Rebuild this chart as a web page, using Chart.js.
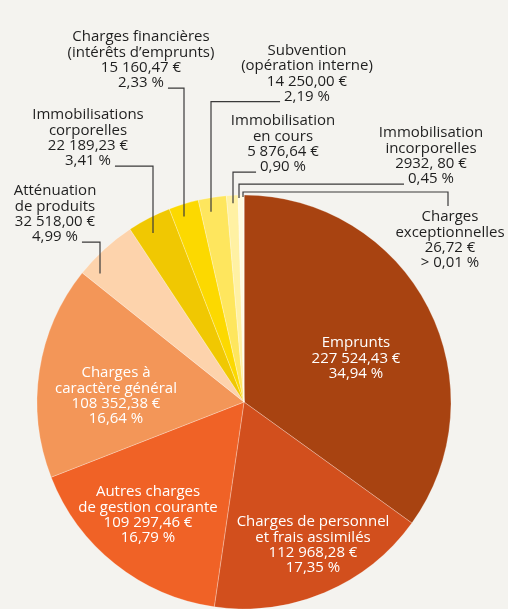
<!DOCTYPE html>
<html>
<head>
<meta charset="utf-8">
<script src="https://cdn.jsdelivr.net/npm/chart.js@4.4.0/dist/chart.umd.min.js"></script>
<style>
    html, body { margin: 0; padding: 0; background: #f4f3ef; }
    canvas { display: block; }
</style>
</head>
<body>
<canvas id="myChart" width="508" height="609"></canvas>
<script>
'use strict'
// budget lines, clockwise from 12 o'clock
const categories = [
    ['Emprunts'],
    ['Charges de personnel', 'et frais assimilés'],
    ['Autres charges', 'de gestion courante'],
    ['Charges à', 'caractère général'],
    ['Atténuation', 'de produits'],
    ['Immobilisations', 'corporelles'],
    ['Charges financières', '(intérêts d’emprunts)'],
    ['Subvention', '(opération interne)'],
    ['Immobilisation', 'en cours'],
    ['Immobilisation', 'incorporelles'],
    ['Charges', 'exceptionnelles']
];
const amounts = [227524.43, 112968.28, 109297.46, 108352.38, 32518.00, 22189.23, 15160.47, 14250.00, 5876.64, 2932.80, 26.72];
const amountLabels = ['227 524,43 €', '112 968,28 €', '109 297,46 €', '108 352,38 €', '32 518,00 €', '22 189,23 €',
    '15 160,47 €', '14 250,00 €', '5 876,64 €', '2932, 80 €', '26,72 €'];
const percentLabels = ['34,94 %', '17,35 %', '16,79 %', '16,64 %', '4,99 %', '3,41 %', '2,33 %', '2,19 %', '0,90 %', '0,45 %', '> 0,01 %'];
const colors = ['#a84311', '#d24f1d', '#f06226', '#f39658', '#fdd3ac', '#f0c802', '#fcd900', '#fee65e', '#fff1a3', '#fffbe2', '#ffffff'];

// where each text block sits (x = centre, y = first line); outside ones get a leader line
const labelPos = [
    {x: 356, y: 343},
    {x: 313, y: 522},
    {x: 148, y: 492},
    {x: 116, y: 373},
    {x: 55, y: 191, side: 'left', lineX: 100, depth: 14},
    {x: 88, y: 115, side: 'left', lineX: 153, depth: 15},
    {x: 141, y: 37, side: 'left', lineX: 184, depth: 12},
    {x: 307, y: 50.5, side: 'right', lineX: 211, depth: 14},
    {x: 283, y: 121, side: 'right', lineX: 233, depth: 8},
    {x: 431, y: 133, side: 'right', lineX: 239, depth: 3},
    {x: 450, y: 217, side: 'below', lineX: 243, depth: 2, hookX: 448, elbowY: 192}
];
const lineH = 15.4;

const sliceLabels = {
    id: 'sliceLabels',
    afterDraw(chart) {
        const c = chart.ctx;
        const arcs = chart.getDatasetMeta(0).data;
        c.save();
        c.font = '15px "Open Sans"';
        c.textAlign = 'center';
        c.textBaseline = 'middle';
        arcs.forEach((arc, i) => {
            const pos = labelPos[i];
            const lines = [...categories[i], amountLabels[i], percentLabels[i]];
            c.fillStyle = pos.side ? '#1f1f1f' : '#ffffff';
            lines.forEach((t, k) => c.fillText(t, pos.x, pos.y + k * lineH));
            if (!pos.side) return;

            const p = arc.getProps(['x', 'y', 'outerRadius'], true);
            const rr = p.outerRadius - pos.depth;
            const ax = pos.lineX;
            const ay = p.y - Math.sqrt(rr * rr - (ax - p.x) * (ax - p.x));
            const lastY = pos.y + (lines.length - 1) * lineH;
            const w = c.measureText(lines[lines.length - 1]).width;

            c.strokeStyle = '#3a3a3a';
            c.lineWidth = 1.2;
            c.beginPath();
            if (pos.side === 'below') {
                c.moveTo(ax, ay);
                c.lineTo(ax, pos.elbowY);
                c.lineTo(pos.hookX, pos.elbowY);
                c.lineTo(pos.hookX, pos.y - 11);
            } else {
                const ey = lastY + 5;
                const tx = pos.side === 'left' ? pos.x + w / 2 + 4 : pos.x - w / 2 - 4;
                c.moveTo(tx, ey);
                c.lineTo(ax, ey);
                c.lineTo(ax, ay);
            }
            c.stroke();
        });
        c.restore();
    }
};

const ctx = document.getElementById('myChart').getContext('2d');
const myChart = new Chart(ctx, {
    type: 'pie',
    data: {
        labels: categories.map(l => l.join(' ')),
        datasets: [{
            data: amounts,
            backgroundColor: colors,
            borderColor: 'rgba(255, 255, 255, 0.45)',
            borderWidth: 0.6,
            hoverOffset: 0,
            radius: 207
        }]
    },
    options: {
        responsive: false,
        animation: false,
        events: [],
        layout: {padding: {left: 37, right: 57, top: 195, bottom: 0}},
        plugins: {
            legend: {display: false},
            tooltip: {enabled: false}
        }
    },
    plugins: [sliceLabels]
});
</script>
</body>
</html>
